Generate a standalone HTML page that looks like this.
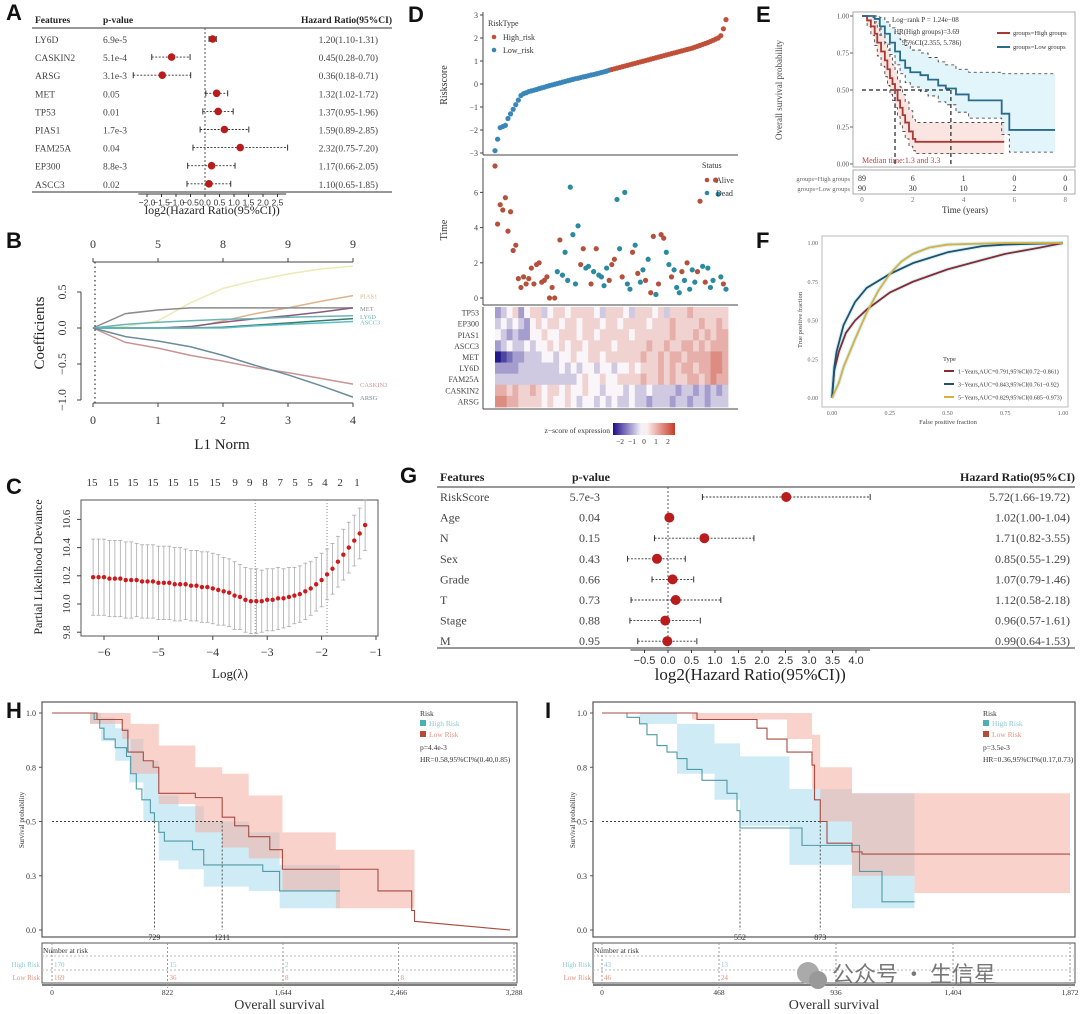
<!DOCTYPE html>
<html><head><meta charset="utf-8">
<style>
body{margin:0;background:#fff;width:1080px;height:1014px;overflow:hidden}
svg{display:block;font-family:"Liberation Serif","Noto Serif CJK SC",serif}
.lab{font-family:"Liberation Sans",sans-serif;font-weight:bold;font-size:22px;fill:#111}
</style></head><body>
<svg id="fig" width="1080" height="1014" viewBox="0 0 1080 1014" xmlns="http://www.w3.org/2000/svg">
<text class="lab" x="6" y="20">A</text>
<text class="lab" x="6" y="248">B</text>
<text class="lab" x="6" y="494">C</text>
<text class="lab" x="408" y="22">D</text>
<text class="lab" x="756" y="22">E</text>
<text class="lab" x="756" y="248">F</text>
<text class="lab" x="400" y="483">G</text>
<text class="lab" x="6" y="718">H</text>
<text class="lab" x="545" y="718">I</text>
<g id="wm">
<circle cx="808" cy="973" r="11" fill="#aaa"/><circle cx="818" cy="980" r="9" fill="#999"/>
<text x="832" y="982" font-size="22" fill="#777" font-family="'Noto Sans CJK SC',sans-serif">公众号 · 生信星</text>
</g>
</svg>
<script>
const NS='http://www.w3.org/2000/svg';
const fig=document.getElementById('fig');
function mk(tag,attrs,parent){const e=document.createElementNS(NS,tag);for(const k in attrs)e.setAttribute(k,attrs[k]);parent.appendChild(e);return e;}
function tx(parent,x,y,s,size,anchor,fill,extra){const e=mk('text',Object.assign({x:x,y:y,'font-size':size,'text-anchor':anchor||'start',fill:fill||'#333'},extra||{}),parent);e.textContent=s;return e;}
function grp(){return mk('g',{},fig);}

/* ---------- DATA ---------- */
const aFeatures=['LY6D','CASKIN2','ARSG','MET','TP53','PIAS1','FAM25A','EP300','ASCC3'];
const aPvals=['6.9e-5','5.1e-4','3.1e-3','0.05','0.01','1.7e-3','0.04','8.8e-3','0.02'];
const aHR=[1.20,0.45,0.36,1.32,1.37,1.59,2.32,1.17,1.10];
const aLo=[1.10,0.28,0.18,1.02,0.95,0.89,0.75,0.66,0.65];
const aHi=[1.31,0.70,0.71,1.72,1.96,2.85,7.20,2.05,1.85];
const aTicks=[-2.0,-1.5,-1.0,-0.5,0.0,0.5,1.0,1.5,2.0,2.5];

const gFeatures=['RiskScore','Age','N','Sex','Grade','T','Stage','M'];
const gPvals=['5.7e-3','0.04','0.15','0.43','0.66','0.73','0.88','0.95'];
const gHR=[5.72,1.02,1.71,0.85,1.07,1.12,0.96,0.99];
const gLo=[1.66,1.00,0.82,0.55,0.79,0.58,0.57,0.64];
const gHi=[19.72,1.04,3.55,1.29,1.46,2.18,1.61,1.53];
const gTicks=[-0.5,0.0,0.5,1.0,1.5,2.0,2.5,3.0,3.5,4.0];

const bNorm=[0,0.5,1,1.5,2,2.5,3,3.5,4];
const bTopN=[0,5,8,9,9];
const bNames=['yellow','PIAS1','grey','TP53','LY6D','EP300','ASCC3','CASKIN2','ARSG'];
const bColors=['#ecebb8','#dcb48c','#8c8c8c','#8a5a82','#6cb4b4','#3a7a6a','#5cc0c8','#c89494','#6a8c9c'];
const bYellow=[0,0.02,0.1,0.35,0.55,0.66,0.75,0.82,0.86];
const bPIAS1=[0,0,0,0,0.1,0.2,0.28,0.37,0.45];
const bGrey=[0,0.2,0.25,0.28,0.28,0.28,0.28,0.28,0.28];
const bTP53=[0,0,0,0.02,0.08,0.13,0.17,0.22,0.28];
const bLY6D=[0,0.05,0.08,0.1,0.12,0.13,0.15,0.16,0.17];
const bEP300=[0,0,0,0,0.01,0.04,0.07,0.1,0.13];
const bASCC3=[0,0,0,0,0,0.03,0.05,0.07,0.09];
const bCASKIN2=[0,-0.2,-0.28,-0.38,-0.46,-0.55,-0.62,-0.7,-0.78];
const bARSG=[0,-0.12,-0.18,-0.26,-0.38,-0.52,-0.65,-0.8,-0.96];

const cLam=[-6.2,-6.1,-6.0,-5.9,-5.8,-5.7,-5.6,-5.5,-5.4,-5.3,-5.2,-5.1,-5.0,-4.9,-4.8,-4.7,-4.6,-4.5,-4.4,-4.3,-4.2,-4.1,-4.0,-3.9,-3.8,-3.7,-3.6,-3.5,-3.4,-3.3,-3.2,-3.1,-3.0,-2.9,-2.8,-2.7,-2.6,-2.5,-2.4,-2.3,-2.2,-2.1,-2.0,-1.9,-1.8,-1.7,-1.6,-1.5,-1.4,-1.3,-1.2];
const cDev=[10.19,10.19,10.19,10.18,10.18,10.18,10.17,10.17,10.17,10.16,10.16,10.16,10.15,10.15,10.15,10.14,10.14,10.14,10.13,10.13,10.12,10.12,10.11,10.10,10.09,10.08,10.06,10.05,10.03,10.02,10.02,10.02,10.03,10.03,10.04,10.04,10.05,10.06,10.07,10.09,10.11,10.14,10.17,10.21,10.25,10.30,10.35,10.40,10.45,10.50,10.56];
const cSe=[0.27,0.27,0.27,0.27,0.27,0.27,0.27,0.27,0.26,0.26,0.26,0.26,0.26,0.26,0.26,0.26,0.26,0.25,0.25,0.25,0.25,0.25,0.25,0.25,0.24,0.24,0.24,0.23,0.23,0.23,0.23,0.22,0.22,0.22,0.22,0.21,0.21,0.2,0.2,0.2,0.19,0.19,0.19,0.18,0.18,0.18,0.18,0.18,0.18,0.18,0.18];
const cTopN=[15,15,15,15,15,15,15,9,9,8,7,5,5,4,2,1];
const cTopLam=[-6.22,-5.83,-5.47,-5.1,-4.73,-4.36,-3.96,-3.59,-3.32,-3.04,-2.76,-2.49,-2.21,-1.94,-1.66,-1.35];
const cVlines=[-3.22,-1.9];

const dRisk=[-2.9,-2.4,-1.9,-1.85,-1.8,-1.5,-1.3,-1.1,-0.9,-0.7,-0.5,-0.42,-0.38,-0.33,-0.3,-0.27,-0.24,-0.2,-0.17,-0.14,-0.1,-0.07,-0.04,-0.01,0.02,0.05,0.08,0.11,0.14,0.17,0.2,0.23,0.25,0.28,0.31,0.33,0.36,0.39,0.41,0.44,0.47,0.5,0.53,0.56,0.6,
0.63,0.66,0.69,0.72,0.75,0.78,0.81,0.84,0.87,0.9,0.93,0.96,0.99,1.02,1.05,1.08,1.11,1.14,1.17,1.2,1.23,1.26,1.29,1.32,1.35,1.38,1.41,1.44,1.47,1.5,1.53,1.56,1.6,1.64,1.68,1.72,1.76,1.8,1.85,1.9,1.95,2.0,2.1,2.4,2.8];
const dTime=[7.5,4.2,5.3,5.0,5.7,3.8,4.9,2.7,3.0,1.1,0.6,1.2,0.8,1.1,1.7,0.8,1.9,2.0,0.9,1.0,1.2,0,0.6,0,1.5,3.3,1.3,2.6,1.0,6.3,3.6,0.8,4.1,1.9,2.8,1.7,1.8,0.8,1.5,2.8,1.3,1.2,0.7,1.7,1.0,1.9,2.2,5.6,2.8,1.2,6.0,0.8,0.5,2.6,3.0,1.4,0.9,1.6,1.0,2.2,0.3,3.5,0.2,0.8,3.6,3.4,2.6,1.9,1.2,1.6,0.6,0.3,1.5,1.0,2.0,0.5,1.6,0.9,1.5,5.5,1.8,0.9,1.7,0.6,1.0,6.7,5.9,1.2,0.8,0.5];
const dDead=[0,0,0,0,0,0,0,0,0,0,0,0,0,0,0,0,0,0,0,0,0,0,0,0,1,0,1,1,1,1,1,1,1,0,0,1,1,0,1,0,1,1,1,1,0,0,0,1,1,0,1,1,1,0,1,0,1,1,0,1,0,0,1,0,0,0,1,1,0,1,1,1,0,1,0,1,1,1,0,0,1,0,1,1,1,0,1,1,0,1];

const hmGenes=['TP53','EP300','PIAS1','ASCC3','MET','LY6D','FAM25A','CASKIN2','ARSG'];
const hmTP53=[-1,-.5,0,.5,-1,0,.5,.5,-.5,0,.5,.5,0,.5,.5,.5,.5,0,-.5,.5,.5,.5,0,-.5,.5,.5,.5,0,.5,-.5,.5,.5,.5,1,.5,.5,.5,.5,.5,.5];
const hmEP300=[-.5,0,-.5,0,-.5,-1,0,.5,0,.5,.5,0,.5,.5,0,.5,.5,.5,0,.5,.5,0,.5,.5,.5,.5,0,.5,.5,.5,1,.5,.5,.5,.5,1,.5,.5,1,.5];
const hmPIAS1=[0,-.5,-1,-.5,-1,-1,0,0,.5,0,0,.5,.5,.5,0,.5,.5,0,.5,.5,.5,.5,.5,0,.5,.5,.5,.5,.5,.5,1,.5,.5,.5,1,.5,1,.5,1,1];
const hmASCC3=[-1,-.5,0,-.5,-.5,0,-.5,0,0,.5,0,.5,0,.5,.5,0,.5,.5,.5,.5,0,.5,.5,.5,.5,.5,1,.5,.5,1,.5,.5,1,1,.5,1,.5,1,1,1];
const hmMET=[-2.5,-2,-1.5,-1,-1,-.5,-.5,-.5,0,0,-.5,0,0,.5,0,0,.5,.5,0,.5,.5,.5,.5,.5,.5,1,.5,.5,1,.5,1,1,.5,1,1,1,1,1.5,1.5,1];
const hmLY6D=[-1,-1,-1,-1,-.5,-.5,-.5,-.5,-.5,-.5,-.5,0,-.5,0,-.5,0,0,-.5,0,0,-.5,0,0,.5,0,.5,.5,.5,1,.5,1,.5,1,1,.5,1,1,1.5,1.5,1];
const hmFAM25A=[-.5,-.5,-.5,-.5,-.5,-.5,-.5,-.5,-.5,-.5,-.5,-.5,-.5,-.5,0,.5,0,0,.5,0,0,.5,.5,.5,.5,1,.5,.5,1,.5,1,.5,.5,1,1,.5,1,1.5,1,1];
const hmCASKIN2=[1,1,.5,1,.5,.5,1,.5,0,.5,.5,0,.5,0,0,.5,0,0,-.5,0,0,0,-.5,0,-.5,-.5,0,-.5,-.5,-.5,-.5,-1,-.5,-.5,-1,-.5,-1,-.5,-1,-.5];
const hmARSG=[1.5,1.5,1,1,.5,.5,.5,.5,0,.5,0,0,.5,0,-.5,0,0,-.5,0,-.5,0,-.5,-.5,0,-.5,-.5,-1,-.5,-.5,-.5,-1,-.5,-.5,-1,-.5,-.5,-1,-.5,-.5,-.5];

const eHighT=[0,0.2,0.35,0.5,0.6,0.75,0.9,1.0,1.1,1.2,1.3,1.4,1.5,1.6,1.7,1.85,2.0,2.1];
const eHighP=[1,0.97,0.93,0.88,0.82,0.76,0.70,0.64,0.58,0.54,0.5,0.43,0.38,0.33,0.28,0.22,0.17,0.15];
const eHighUp=[1,1,0.99,0.96,0.92,0.87,0.82,0.77,0.72,0.67,0.63,0.57,0.52,0.47,0.42,0.36,0.3,0.28];
const eHighLo=[1,0.93,0.87,0.8,0.73,0.66,0.59,0.53,0.47,0.43,0.38,0.32,0.27,0.22,0.17,0.12,0.09,0.07];
const eLowT=[0,0.5,0.7,0.9,1.1,1.3,1.5,1.7,1.9,2.3,2.6,3.0,3.3,3.7,4.2,5.5,5.8];
const eLowP=[1,0.98,0.93,0.88,0.82,0.76,0.70,0.65,0.62,0.6,0.57,0.53,0.51,0.47,0.43,0.34,0.23];
const eLowUp=[1,1,0.99,0.96,0.92,0.88,0.84,0.8,0.77,0.75,0.72,0.69,0.67,0.64,0.62,0.61,0.61];
const eLowLo=[1,0.95,0.87,0.81,0.74,0.67,0.61,0.55,0.52,0.49,0.46,0.42,0.4,0.35,0.31,0.2,0.08];
const eTicksX=[0,2,4,6,8];
const eRiskHigh=[89,6,1,0,0];
const eRiskLow=[90,30,10,2,0];

const fFpr1=[0,0.01,0.03,0.06,0.1,0.15,0.25,0.35,0.5,0.65,0.75,0.9,1];
const fTpr1=[0,0.18,0.3,0.42,0.5,0.57,0.68,0.75,0.83,0.89,0.93,0.97,1];
const fFpr3=[0,0.01,0.02,0.05,0.1,0.15,0.25,0.35,0.5,0.65,0.75,1];
const fTpr3=[0,0.2,0.3,0.47,0.62,0.71,0.8,0.87,0.94,0.98,0.99,1];
const fFpr5=[0,0.03,0.05,0.1,0.15,0.2,0.25,0.3,0.35,0.42,0.5,0.75,1];
const fTpr5=[0,0.1,0.2,0.38,0.55,0.69,0.8,0.88,0.93,0.97,0.99,1,1];

const hHighT=[0,270,300,340,370,450,530,560,600,640,700,729,760,800,1000,1080,1400,1500,1620];
const hHighP=[1,1,0.97,0.93,0.88,0.84,0.80,0.72,0.65,0.6,0.54,0.5,0.45,0.41,0.37,0.30,0.30,0.27,0.18];
const hLowT=[0,270,320,500,540,650,720,760,1020,1211,1300,1400,1550,1640,2320,2560,2580];
const hLowP=[1,1,0.97,0.92,0.82,0.78,0.75,0.63,0.61,0.52,0.48,0.43,0.37,0.28,0.18,0.09,0.04];
const hHighBandT=[270,350,450,550,650,760,900,1080,1400,1620];
const hHighBandHi=[1,0.98,0.93,0.88,0.78,0.62,0.57,0.5,0.45,0.3];
const hHighBandLo=[0.95,0.87,0.78,0.68,0.5,0.32,0.28,0.2,0.18,0.1];
const hLowBandT=[270,500,560,760,1020,1211,1400,1640,2020];
const hLowBandHi=[1,1,0.95,0.85,0.75,0.72,0.62,0.45,0.37];
const hLowBandLo=[0.95,0.88,0.72,0.58,0.45,0.38,0.33,0.18,0.1];
const hTicks=[0,822,1644,2466,3288];
const hTickLab=['0','822','1,644','2,466','3,288'];
const hRiskHigh=['170','15','2','',''];
const hRiskLow=['169','36','8','8',''];
const hMedians=[729,1211];

const iHighT=[0,50,100,150,180,220,260,300,340,400,500,540,552,800,1010,1030,1120];
const iHighP=[1,1,0.98,0.95,0.9,0.85,0.82,0.79,0.74,0.69,0.63,0.55,0.47,0.39,0.39,0.27,0.13];
const iLowT=[0,360,380,620,660,740,840,850,873,900,1000,1040];
const iLowP=[1,1,0.97,0.93,0.88,0.82,0.76,0.6,0.5,0.4,0.36,0.35];
const iHighBandT=[0,150,300,450,552,750,1000,1250];
const iHighBandHi=[1,1,0.95,0.86,0.8,0.65,0.63,0.63];
const iHighBandLo=[1,0.95,0.72,0.6,0.48,0.3,0.1,0.03];
const iLowBandT=[360,740,840,873,1000,1250];
const iLowBandHi=[1,1,0.9,0.75,0.63,0.63];
const iLowBandLo=[0.97,0.88,0.65,0.5,0.25,0.17];
const iTicks=[0,468,936,1404,1872];
const iTickLab=['0','468','936','1,404','1,872'];
const iRiskHigh=['43','13','','',''];
const iRiskLow=['46','24','','',''];
const iMedians=[552,873];

/* ---------- FOREST ---------- */
function forest(name,F,P,HR,LO,HI,ticks,c){
  const g=grp();
  
  
  const X=v=>c.x0+v*c.sc;
  const fs=c.fs;
  let t=tx(g,c.fx,c.hy,'Features',fs,'start','#222',{'font-weight':'bold'});
  
  
  t=tx(g,c.px,c.hy,'p-value',fs,'start','#222',{'font-weight':'bold'});
  
  
  t=tx(g,c.hrHx,c.hy,'Hazard Ratio(95%CI)',fs,'end','#222',{'font-weight':'bold'});
  
  
  mk('line',{x1:c.fx-3,x2:c.hrHx,y1:c.l1,y2:c.l1,stroke:'#777','stroke-width':1.6},g);
  mk('line',{x1:c.fx-3,x2:c.hrHx,y1:c.l2,y2:c.l2,stroke:'#777','stroke-width':1.6},g);
  mk('line',{x1:X(0),x2:X(0),y1:c.l1,y2:c.l2,stroke:'#555','stroke-dasharray':'2,2'},g);
  for(let i=0;i<F.length;i++){
    const y=c.r0+i*c.dr;
    let e=tx(g,c.fx,y+4,F[i],fs,'start','#444');
    
    
    e=tx(g,c.pvx,y+4,P[i],fs,c.panchor,'#444');
    
    
    e=tx(g,c.hrx,y+4,HR[i].toFixed(2)+'('+LO[i].toFixed(2)+'-'+HI[i].toFixed(2)+')',fs,'end','#444');
    
    
    const xl=X(Math.log2(LO[i])),xh=X(Math.log2(HI[i]));
    const ci=mk('g',{},g);
    
    
    mk('line',{x1:xl,x2:xh,y1:y,y2:y,stroke:'#333','stroke-dasharray':'2,1.5','stroke-width':0.9},ci);
    mk('line',{x1:xl,x2:xl,y1:y-3,y2:y+3,stroke:'#333'},ci);
    mk('line',{x1:xh,x2:xh,y1:y-3,y2:y+3,stroke:'#333'},ci);
    const d=mk('circle',{cx:X(Math.log2(HR[i])),cy:y,r:c.rad,fill:'#b81c1c'},g);
    
    
  }
  mk('line',{x1:X(ticks[0])-c.sc*0.3,x2:X(ticks[ticks.length-1])+c.sc*0.3,y1:c.ax,y2:c.ax,stroke:'#333'},g);
  for(const v of ticks){
    mk('line',{x1:X(v),x2:X(v),y1:c.ax,y2:c.ax+3,stroke:'#333'},g);
    const e=tx(g,X(v),c.ax+c.tfs+3,v.toFixed(1).replace('-','−'),c.tfs,'middle','#333',{'font-family':'"Liberation Sans",sans-serif'});
    
    
  }
  const e=tx(g,X((ticks[0]+ticks[ticks.length-1])/2),c.ty,'log2(Hazard Ratio(95%CI))',c.tts,'middle','#222');
  
  
}
forest('forest-plot-a',aFeatures,aPvals,aHR,aLo,aHi,aTicks,{x0:205,sc:29,fs:9.5,fx:35,px:103,pvx:103,panchor:'start',hrHx:392,hrx:378,hy:23,l1:28,l2:192,r0:39,dr:18.1,rad:3.8,ax:194,tfs:8.5,ty:214,tts:12});
forest('forest-plot-g',gFeatures,gPvals,gHR,gLo,gHi,gTicks,{x0:668,sc:47,fs:12,fx:440,px:572,pvx:600,panchor:'end',hrHx:1075,hrx:1070,hy:481,l1:487,l2:648,r0:497,dr:20.6,rad:5,ax:650,tfs:11,ty:680,tts:17});

/* ---------- B: LASSO path ---------- */
(function(){
  const g=grp();
  
  
  const X=n=>93+n*65, Y=v=>328-v*72;
  const series=[bYellow,bPIAS1,bGrey,bTP53,bLY6D,bEP300,bASCC3,bCASKIN2,bARSG];
  series.forEach((s,k)=>{
    const p=mk('polyline',{points:s.map((v,i)=>X(bNorm[i])+','+Y(v)).join(' '),fill:'none',stroke:bColors[k],'stroke-width':1.5},g);
    
    
  });
  const labs=[['PIAS1',1],['MET',2],['LY6D',4],['ASCC3',6],['CASKIN2',7],['ARSG',8]];
  labs.forEach(([n,k])=>{const s=series[k];const e=tx(g,360,Y(s[s.length-1])+3,n,6.5,'start',bColors[k]);
    
    });
  mk('line',{x1:95,x2:95,y1:262,y2:403,stroke:'#444','stroke-dasharray':'1.5,3','stroke-width':1.3},g);
  mk('line',{x1:93,x2:353,y1:262,y2:262,stroke:'#444'},g);
  mk('line',{x1:93,x2:353,y1:403,y2:403,stroke:'#444'},g);
  mk('line',{x1:81,x2:81,y1:292,y2:400,stroke:'#444'},g);
  bTopN.forEach((n,i)=>{mk('line',{x1:X(i),x2:X(i),y1:262,y2:258,stroke:'#444'},g);
    const e=tx(g,X(i),248,String(n),12,'middle','#333');
    
    });
  [0,1,2,3,4].forEach(n=>{mk('line',{x1:X(n),x2:X(n),y1:403,y2:407,stroke:'#444'},g);
    const e=tx(g,X(n),424,String(n),12,'middle','#333');
    
    });
  [0.5,0,-0.5,-1].forEach(v=>{mk('line',{x1:77,x2:81,y1:Y(v),y2:Y(v),stroke:'#444'},g);
    const e=tx(g,66,Y(v),v.toFixed(1).replace('-','−'),12,'middle','#333',{transform:'rotate(-90 66 '+Y(v)+')'});
    
    });
  let e=tx(g,222,449,'L1 Norm',15,'middle','#222');
  
  
  e=tx(g,44,333,'Coefficients',15,'middle','#222',{transform:'rotate(-90 44 333)'});
  
  
})();

/* ---------- C: CV plot ---------- */
(function(){
  const g=grp();
  
  
  const X=l=>104+(l+6)*54.4, Y=v=>604-(v-10)*141;
  mk('rect',{x:81,y:500,width:297,height:136,fill:'none',stroke:'#555'},g);
  cVlines.forEach(l=>{const v=mk('line',{x1:X(l),x2:X(l),y1:500,y2:636,stroke:'#888','stroke-dasharray':'1,2'},g);
    
    });
  cLam.forEach((l,i)=>{
    const x=X(l);
    const eb=mk('g',{},g);
    
    
    mk('line',{x1:x,x2:x,y1:Y(cDev[i]+cSe[i]),y2:Y(cDev[i]-cSe[i]),stroke:'#aaa','stroke-width':0.8},eb);
    mk('line',{x1:x-2,x2:x+2,y1:Y(cDev[i]+cSe[i]),y2:Y(cDev[i]+cSe[i]),stroke:'#aaa','stroke-width':0.8},eb);
    mk('line',{x1:x-2,x2:x+2,y1:Y(cDev[i]-cSe[i]),y2:Y(cDev[i]-cSe[i]),stroke:'#aaa','stroke-width':0.8},eb);
  });
  cLam.forEach((l,i)=>{const d=mk('circle',{cx:X(l),cy:Y(cDev[i]),r:2.2,fill:'#d0191c'},g);
    
    });
  cTopN.forEach((n,i)=>{const e=tx(g,X(cTopLam[i]),486,String(n),11,'middle','#333');
    
    });
  [-6,-5,-4,-3,-2,-1].forEach(l=>{mk('line',{x1:X(l),x2:X(l),y1:636,y2:640,stroke:'#444'},g);
    const e=tx(g,X(l),656,String(l).replace('-','−'),12,'middle','#333');
    
    });
  [9.8,10.0,10.2,10.4,10.6].forEach(v=>{mk('line',{x1:77,x2:81,y1:Y(v),y2:Y(v),stroke:'#444'},g);
    const e=tx(g,70,Y(v),v.toFixed(1),11,'middle','#333',{transform:'rotate(-90 70 '+Y(v)+')'});
    
    });
  let e=tx(g,230,678,'Log(λ)',13,'middle','#222');
  
  
  e=tx(g,42,567,'Partial Likelihood Deviance',12,'middle','#222',{transform:'rotate(-90 42 567)'});
  
  
})();

/* ---------- D: risk score / time / heatmap ---------- */
(function(){
  const g=grp();
  
  
  const n=dRisk.length;
  const X=i=>495+i*(231/(n-1));
  const Yr=v=>84-v*23;
  const Yt=t=>298-t*17.6;
  // risk plot axes
  mk('line',{x1:483,x2:483,y1:12,y2:155,stroke:'#444'},g);
  mk('line',{x1:483,x2:738,y1:155,y2:155,stroke:'#444'},g);
  [-3,-2,-1,0,1,2,3].forEach(v=>{mk('line',{x1:480,x2:483,y1:Yr(v),y2:Yr(v),stroke:'#444'},g);
    const e=tx(g,478,Yr(v)+3,String(v).replace('-','−'),8,'end','#444');
    
    });
  dRisk.forEach((v,i)=>{const d=mk('circle',{cx:X(i),cy:Yr(v),r:2.6,fill:i<n/2?'#3a86b8':'#c0503a'},g);
    
    });
  let e=tx(g,447,85,'Riskscore',10,'middle','#333',{transform:'rotate(-90 447 85)'});
  
  
  e=tx(g,488,26,'RiskType',8,'start','#333');
  
  
  mk('circle',{cx:494,cy:37,r:2.3,fill:'#c0503a'},g);
  mk('circle',{cx:494,cy:50,r:2.3,fill:'#3a86b8'},g);
  e=tx(g,503,40,'High_risk',8,'start','#333');
  
  
  e=tx(g,503,53,'Low_risk',8,'start','#333');
  
  
  // time scatter
  mk('line',{x1:483,x2:483,y1:158,y2:305,stroke:'#444'},g);
  mk('line',{x1:483,x2:738,y1:305,y2:305,stroke:'#444'},g);
  [0,2,4,6].forEach(v=>{mk('line',{x1:480,x2:483,y1:Yt(v),y2:Yt(v),stroke:'#444'},g);
    const e=tx(g,478,Yt(v)+3,String(v),8,'end','#444');
    
    });
  dTime.forEach((t,i)=>{const d=mk('circle',{cx:X(i),cy:Yt(t),r:2.6,fill:dDead[i]?'#2a8aa0':'#b4503c'},g);
    
    });
  e=tx(g,447,230,'Time',10,'middle','#333',{transform:'rotate(-90 447 230)'});
  
  
  e=tx(g,702,168,'Status',8,'start','#333');
  
  
  mk('circle',{cx:707,cy:180,r:2.3,fill:'#b4503c'},g);
  mk('circle',{cx:707,cy:193,r:2.3,fill:'#2a8aa0'},g);
  e=tx(g,716,183,'Alive',8,'start','#333');
  
  
  e=tx(g,716,196,'Dead',8,'start','#333');
  
  
  // heatmap
  const rows=[hmTP53,hmEP300,hmPIAS1,hmASCC3,hmMET,hmLY6D,hmFAM25A,hmCASKIN2,hmARSG];
  function col(z){const f=Math.max(-1,Math.min(1,z/2.5));
    const w=[250,245,248],r=[200,70,50],b=[35,25,140];const tg=f>=0?r:b;const a=Math.abs(f);
    return 'rgb('+tg.map((c,i)=>Math.round(w[i]+(c-w[i])*a)).join(',')+')';}
  const hx=495,hw=233,hy=307,rh=100/9,cw=hw/hmTP53.length;
  rows.forEach((r,ri)=>{
    r.forEach((z,ci)=>{const c=mk('rect',{x:hx+ci*cw,y:hy+ri*rh,width:cw+0.4,height:rh+0.4,fill:col(z)},g);
      
      });
    const e=tx(g,479,hy+ri*rh+rh/2+3,hmGenes[ri],8,'end','#444');
    
    
  });
  mk('line',{x1:483,x2:483,y1:307,y2:409,stroke:'#444'},g);
  mk('line',{x1:483,x2:738,y1:409,y2:409,stroke:'#444'},g);
  const gr=mk('linearGradient',{id:'zgrad'},mk('defs',{},g));
  [['0','#1f0f8a'],['0.45','#f2f0fa'],['0.55','#fbeeee'],['1','#c83a26']].forEach(s=>mk('stop',{offset:s[0],'stop-color':s[1]},gr));
  const cb=mk('rect',{x:613,y:423,width:62,height:12,fill:'url(#zgrad)'},g);
  
  
  e=tx(g,610,433,'z−score of expression',7.5,'end','#333');
  
  
  ['−2','−1','0','1','2'].forEach((s,i)=>{const e=tx(g,620+i*12,444,s,7.5,'middle','#333');
    
    });
})();

/* ---------- step helpers ---------- */
function stepD(T,P,X,Y,tEnd){let d='M'+X(T[0])+','+Y(P[0]);for(let i=1;i<T.length;i++){d+='H'+X(T[i])+'V'+Y(P[i]);}if(tEnd!==undefined)d+='H'+X(tEnd);return d;}
function bandD(T,HI,LO,X,Y,tEnd){let d='M'+X(T[0])+','+Y(HI[0]);for(let i=1;i<T.length;i++)d+='H'+X(T[i])+'V'+Y(HI[i]);d+='H'+X(tEnd)+'V'+Y(LO[LO.length-1]);for(let i=T.length-1;i>0;i--)d+='H'+X(T[i])+'V'+Y(LO[i-1]);d+='H'+X(T[0])+'Z';return d;}

/* ---------- E: KM ---------- */
(function(){
  const g=grp();
  
  
  const X=t=>862+t*25.4, Y=p=>164-p*148;
  mk('rect',{x:853,y:12,width:222,height:155,fill:'none',stroke:'#aaa'},g);
  mk('path',{d:bandD(eLowT,eLowUp,eLowLo,X,Y,7.6),fill:'#bfe9f5',opacity:0.45},g);
  mk('path',{d:bandD(eHighT,eHighUp,eHighLo,X,Y,5.6),fill:'#f6c6c0',opacity:0.45},g);
  [[eHighT,eHighUp,5.6],[eHighT,eHighLo,5.6],[eLowT,eLowUp,7.6],[eLowT,eLowLo,7.6]].forEach(s=>{
    const p=mk('path',{d:stepD(s[0],s[1],X,Y,s[2]),fill:'none',stroke:'#333','stroke-dasharray':'3,3','stroke-width':0.8},g);
    
    });
  mk('path',{d:'M'+X(0)+','+Y(0.5)+'H'+X(3.5)+'M'+X(1.3)+','+Y(0.5)+'V'+Y(0)+'M'+X(3.5)+','+Y(0.5)+'V'+Y(0),stroke:'#222','stroke-dasharray':'4,3','stroke-width':1.2,fill:'none'},g);
  let p=mk('path',{d:stepD(eHighT,eHighP,X,Y,5.6),fill:'none',stroke:'#a83a32','stroke-width':1.8},g);
  
  
  p=mk('path',{d:stepD(eLowT,eLowP,X,Y,7.6),fill:'none',stroke:'#2a6a8a','stroke-width':1.8},g);
  
  
  [0,0.25,0.5,0.75,1].forEach(v=>{mk('line',{x1:850,x2:853,y1:Y(v),y2:Y(v),stroke:'#666'},g);
    const e=tx(g,849,Y(v)+2.5,v.toFixed(2),7,'end','#555');
    
    });
  let e=tx(g,782,90,'Overall survival probability',9,'middle','#444',{transform:'rotate(-90 782 90)'});
  
  
  e=tx(g,892,22,'Log−rank P = 1.24e−08',7,'start','#333');
  
  
  e=tx(g,894,34,'HR(High groups)=3.69',7,'start','#333');
  
  
  e=tx(g,902,45,'95%CI(2.355, 5.786)',7,'start','#333');
  
  
  e=tx(g,862,163,'Median time:1.3 and 3.3',8,'start','#c0444a');
  
  
  mk('line',{x1:997,x2:1010,y1:33,y2:33,stroke:'#a83a32','stroke-width':2},g);
  mk('line',{x1:997,x2:1010,y1:47,y2:47,stroke:'#2a6a8a','stroke-width':2},g);
  e=tx(g,1013,35,'groups=High groups',6.5,'start','#333');
  
  
  e=tx(g,1013,49,'groups=Low groups',6.5,'start','#333');
  
  
  mk('rect',{x:853,y:170,width:222,height:24,fill:'none',stroke:'#aaa'},g);
  e=tx(g,850,181,'groups=High groups',6.5,'end','#666');
  
  
  e=tx(g,850,191,'groups=Low groups',6.5,'end','#666');
  
  
  eTicksX.forEach((t,i)=>{
    let e=tx(g,X(t),181,String(eRiskHigh[i]),8,'middle','#333');
    
    
    e=tx(g,X(t),191,String(eRiskLow[i]),8,'middle','#333');
    
    
    e=tx(g,X(t),202,String(t),7,'middle','#777');
    
    
  });
  e=tx(g,965,213,'Time (years)',9,'middle','#333');
  
  
})();

/* ---------- F: ROC ---------- */
(function(){
  const g=grp();
  
  
  const X=f=>832+f*231, Y=v=>398-v*155;
  mk('rect',{x:822,y:236,width:246,height:171,fill:'none',stroke:'#bbb'},g);
  const cur=[[fFpr1,fTpr1,'#8a2a30','roc-1-year'],[fFpr3,fTpr3,'#24506a','roc-3-year'],[fFpr5,fTpr5,'#d8b040','roc-5-year']];
  cur.forEach(c=>{mk('polyline',{points:c[0].map((f,i)=>X(f)+','+Y(c[1][i])).join(' '),fill:'none',stroke:'#a8e4f0','stroke-width':4,opacity:0.5,'stroke-linejoin':'round'},g);});
  cur.forEach(c=>{const p=mk('polyline',{points:c[0].map((f,i)=>X(f)+','+Y(c[1][i])).join(' '),fill:'none',stroke:c[2],'stroke-width':1.8,'stroke-linejoin':'round'},g);
    
    });
  [0,0.25,0.5,0.75,1].forEach(v=>{
    let e=tx(g,X(v),415,v.toFixed(2),6,'middle','#666');
    
    
    e=tx(g,818,Y(v)+2,v.toFixed(2),6,'end','#666');
    
    });
  let e=tx(g,948,424,'False positive fraction',6.5,'middle','#444');
  
  
  e=tx(g,802,320,'True positive fraction',6.5,'middle','#444',{transform:'rotate(-90 802 320)'});
  
  
  e=tx(g,943,361,'Type',6.5,'start','#333');
  
  
  const lt=['1−Years,AUC=0.791,95%CI(0.72−0.861)','3−Years,AUC=0.843,95%CI(0.761−0.92)','5−Years,AUC=0.829,95%CI(0.685−0.973)'];
  lt.forEach((s,i)=>{mk('line',{x1:944,x2:954,y1:371+i*13,y2:371+i*13,stroke:cur[i][2],'stroke-width':2},g);
    const e=tx(g,958,373.5+i*13,s,6,'start','#333');
    
    });
})();

/* ---------- H & I: KM with bands ---------- */
function kmPanel(name,c){
  const g=grp();
  
  
  const X=t=>c.x0+t*c.sc, Y=p=>930-p*217;
  mk('rect',{x:c.fl,y:702,width:c.fr-c.fl,height:235,fill:'none',stroke:'#555','stroke-width':1.2},g);
  let b=mk('path',{d:bandD(c.hbT,c.hbHi,c.hbLo,X,Y,c.hEnd),fill:'#a8dcef',opacity:0.55},g);
  
  
  b=mk('path',{d:bandD(c.lbT,c.lbHi,c.lbLo,X,Y,c.lEnd),fill:'#f4a898',opacity:0.5},g);
  
  
  mk('path',{d:'M'+X(0)+','+Y(0.5)+'H'+X(c.med[1])+'M'+X(c.med[0])+','+Y(0.5)+'V'+Y(0)+'M'+X(c.med[1])+','+Y(0.5)+'V'+Y(0),stroke:'#444','stroke-dasharray':'2,2',fill:'none','stroke-width':0.9},g);
  c.med.forEach(m=>{const e=tx(g,X(m),940,String(m),8,'middle','#333');
    
    });
  let p=mk('path',{d:stepD(c.hT,c.hP,X,Y,c.hEnd),fill:'none',stroke:'#4e9aa6','stroke-width':1.1},g);
  
  
  p=mk('path',{d:stepD(c.lT,c.lP,X,Y,c.lEnd)+(c.tail?'L'+X(c.tail[0])+','+Y(c.tail[1]):''),fill:'none',stroke:'#a84a40','stroke-width':1.1},g);
  
  
  [0,0.25,0.5,0.75,1].forEach(v=>{mk('line',{x1:c.fl-3,x2:c.fl,y1:Y(v),y2:Y(v),stroke:'#555'},g);
    const e=tx(g,c.fl-6,Y(v)+3,(Math.round(v*10)/10).toFixed(1),8,'end','#333');
    
    });
  let e=tx(g,c.fl-18,820,'Survival probability',7,'middle','#333',{transform:'rotate(-90 '+(c.fl-18)+' 820)'});
  
  
  const lx=c.legx;
  e=tx(g,lx,716,'Risk',7.5,'start','#333');
  
  
  mk('rect',{x:lx,y:720,width:6,height:6,fill:'#4ab0b0'},g);
  mk('rect',{x:lx,y:731,width:6,height:6,fill:'#b84a3a'},g);
  e=tx(g,lx+9,726,'High Risk',7.5,'start','#8cc8d8');
  
  
  e=tx(g,lx+9,737,'Low Risk',7.5,'start','#e89080');
  
  
  e=tx(g,lx,750,c.ptxt,7.5,'start','#333');
  
  
  e=tx(g,lx,762,c.hrtxt,7.5,'start','#333');
  
  
  mk('rect',{x:c.fl,y:943,width:c.fr-c.fl,height:40,fill:'none',stroke:'#555'},g);
  mk('line',{x1:c.fl,x2:c.fr,y1:956,y2:956,stroke:'#bbb','stroke-dasharray':'2,2'},g);
  mk('line',{x1:c.fl,x2:c.fr,y1:970,y2:970,stroke:'#bbb','stroke-dasharray':'2,2'},g);
  e=tx(g,c.fl+1,953,'Number at risk',7.5,'start','#333');
  
  
  e=tx(g,c.fl-2,967,'High Risk',7,'end','#8cc8d8');
  
  
  e=tx(g,c.fl-2,980,'Low Risk',7,'end','#e89080');
  
  
  mk('line',{x1:c.fl,x2:c.fr,y1:985,y2:985,stroke:'#333','stroke-width':1.2},g);
  c.ticks.forEach((t,i)=>{
    mk('line',{x1:X(t),x2:X(t),y1:943,y2:988,stroke:'#999','stroke-dasharray':'2,2'},g);
    let e=tx(g,X(t),995,c.tlab[i],7.5,'middle','#333');
    
    
    e=tx(g,X(t)+2,967,c.rh[i],7,'start','#8cc8d8');
    
    
    e=tx(g,X(t)+2,980,c.rl[i],7,'start','#e89080');
    
    
  });
  e=tx(g,(c.fl+c.fr)/2,1009,'Overall survival',14,'middle','#333');
  
  
}
kmPanel('km-plot-h',{x0:52,sc:462/3288,fl:42,fr:517,hT:hHighT,hP:hHighP,lT:hLowT,lP:hLowP,hEnd:2050,lEnd:2580,tail:[3260,0],
  hbT:hHighBandT,hbHi:hHighBandHi,hbLo:hHighBandLo,lbT:hLowBandT,lbHi:hLowBandHi,lbLo:hLowBandLo,med:hMedians,
  ticks:hTicks,tlab:hTickLab,rh:hRiskHigh,rl:hRiskLow,legx:420,ptxt:'p=4.4e-3',hrtxt:'HR=0.58,95%CI%(0.40,0.85)'});
kmPanel('km-plot-i',{x0:602,sc:468/1872,fl:593,fr:1075,hT:iHighT,hP:iHighP,lT:iLowT,lP:iLowP,hEnd:1250,lEnd:1872,
  hbT:iHighBandT,hbHi:iHighBandHi,hbLo:iHighBandLo,lbT:iLowBandT,lbHi:iLowBandHi,lbLo:iLowBandLo,med:iMedians,
  ticks:iTicks,tlab:iTickLab,rh:iRiskHigh,rl:iRiskLow,legx:983,ptxt:'p=3.5e-3',hrtxt:'HR=0.36,95%CI%(0.17,0.73)'});
fig.appendChild(document.getElementById('wm'));
</script>
</body></html>
